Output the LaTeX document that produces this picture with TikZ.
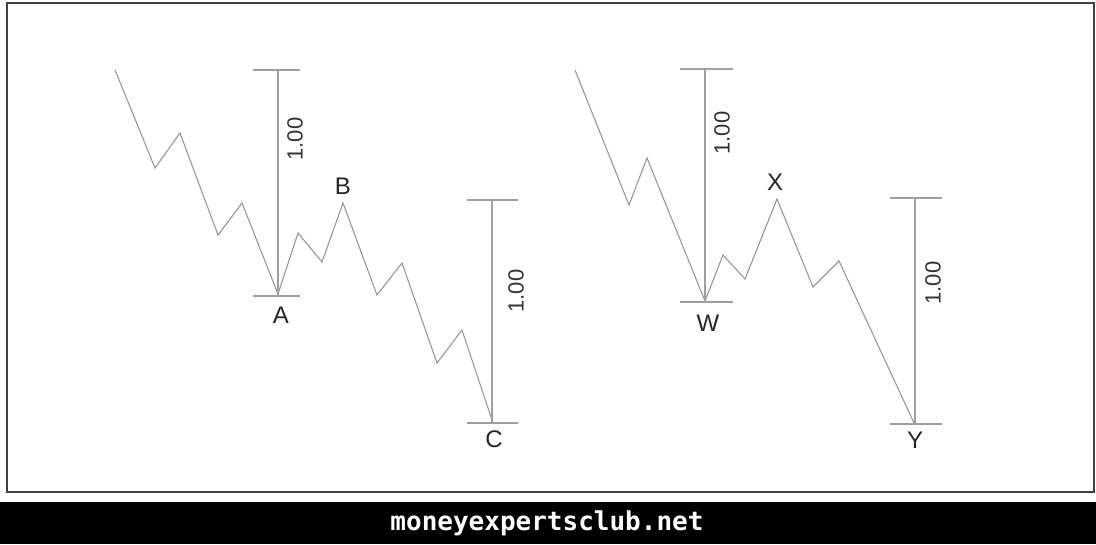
\documentclass[tikz,border=0pt]{standalone}
\usepackage{fontspec}
\setmainfont{Liberation Sans}
\newfontfamily\sitefont{DejaVu Sans Mono}
\begin{document}
\begin{tikzpicture}[x=1pt,y=-1pt,
  wave/.style={draw=gray!80, line width=1.1pt, line join=miter},
  bar/.style={draw=gray!75, line width=1.3pt},
  lbl/.style={font=\fontsize{24}{24}\selectfont, text=black!85, inner sep=0pt},
  ratio/.style={font=\fontsize{22}{22}\selectfont, rotate=90, text=black!80, inner sep=0pt}]
\useasboundingbox (0,0) rectangle (1096,544);
\fill[white] (0,0) rectangle (1096,544);
\draw[line width=2pt, draw=black!75] (7,3) rectangle (1094,492);
\fill[black] (0,502) rectangle (1096,544);
\node[text=white, font=\sitefont\bfseries\fontsize{26}{26}\selectfont] (site) at (547,523) {moneyexpertsclub.net};

% left chart points
\coordinate (l0) at (115,70);
\coordinate (l1) at (155,168);
\coordinate (l2) at (180,133);
\coordinate (l3) at (218,235);
\coordinate (l4) at (242,203);
\coordinate (pA) at (278,294);
\coordinate (l6) at (298,233);
\coordinate (l7) at (322,262);
\coordinate (pB) at (343,203);
\coordinate (l9) at (377,295);
\coordinate (l10) at (402,263);
\coordinate (l11) at (437,363);
\coordinate (l12) at (462,330);
\coordinate (pC) at (493,423);
\draw[wave] (l0) -- (l1) -- (l2) -- (l3) -- (l4) -- (pA) -- (l6) -- (l7) -- (pB) -- (l9) -- (l10) -- (l11) -- (l12) -- (pC);

% right chart points
\coordinate (r0) at (575,70);
\coordinate (r1) at (629,205);
\coordinate (r2) at (647,158);
\coordinate (pW) at (705,301);
\coordinate (r4) at (723,255);
\coordinate (r5) at (745,279);
\coordinate (pX) at (777,199);
\coordinate (r7) at (813,287);
\coordinate (r8) at (839,261);
\coordinate (pY) at (914,423);
\draw[wave] (r0) -- (r1) -- (r2) -- (pW) -- (r4) -- (r5) -- (pX) -- (r7) -- (r8) -- (pY);

% bars
\coordinate (aT) at (278,70);
\coordinate (aB) at (278,296);
\draw[bar] (aT) -- (aB);
\draw[bar] ([xshift=-25pt]aT) -- ([xshift=22pt]aT);
\draw[bar] ([xshift=-25pt]aB) -- ([xshift=22pt]aB);

\coordinate (cT) at (492,200);
\coordinate (cB) at (492,423);
\draw[bar] (cT) -- (cB);
\draw[bar] ([xshift=-25pt]cT) -- ([xshift=26pt]cT);
\draw[bar] ([xshift=-25pt]cB) -- ([xshift=26pt]cB);

\coordinate (wT) at (705,69);
\coordinate (wB) at (705,302);
\draw[bar] (wT) -- (wB);
\draw[bar] ([xshift=-25pt]wT) -- ([xshift=28pt]wT);
\draw[bar] ([xshift=-25pt]wB) -- ([xshift=28pt]wB);

\coordinate (yT) at (915,198);
\coordinate (yB) at (915,424);
\draw[bar] (yT) -- (yB);
\draw[bar] ([xshift=-25pt]yT) -- ([xshift=27pt]yT);
\draw[bar] ([xshift=-25pt]yB) -- ([xshift=27pt]yB);

% ratio labels
\node[ratio] (rA) at (295,139) {1.00};
\node[ratio] (rC) at (516,291) {1.00};
\node[ratio] (rW) at (722,133) {1.00};
\node[ratio] (rY) at (933,283) {1.00};

% point labels
\node[lbl] (tA) at (281,315) {A};
\node[lbl] (tB) at (343,186) {B};
\node[lbl] (tC) at (494,439) {C};
\node[lbl] (tW) at (708,323) {W};
\node[lbl] (tX) at (775,182) {X};
\node[lbl] (tY) at (915,440) {Y};
\end{tikzpicture}
\end{document}
